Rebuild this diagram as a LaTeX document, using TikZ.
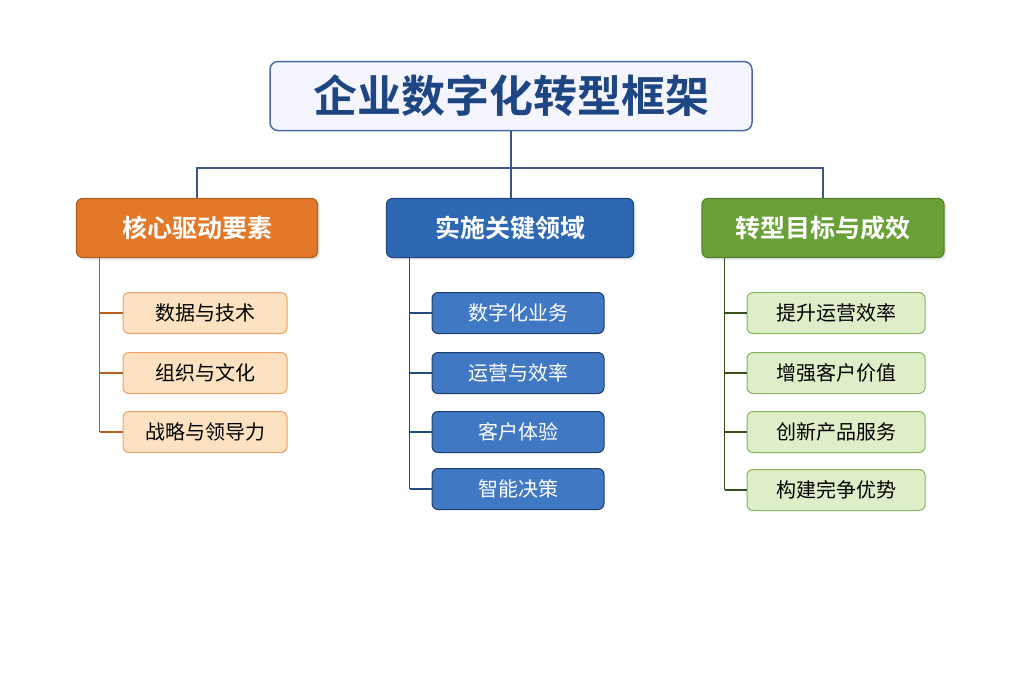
\documentclass[tikz,border=0pt]{standalone}
\usepackage{fontspec}
\newfontfamily\cjk{Noto Sans CJK SC}
\newfontfamily\cjkb{Noto Sans CJK SC Bold}
\usetikzlibrary{positioning, calc, shadows}
\definecolor{titleblue}{RGB}{30,70,130}
\definecolor{orangehead}{RGB}{226,120,40}
\definecolor{orangeleaf}{RGB}{252,226,192}
\definecolor{bluehead}{RGB}{46,104,180}
\definecolor{blueleaf}{RGB}{64,120,196}
\definecolor{greenhead}{RGB}{106,160,56}
\definecolor{greenleaf}{RGB}{222,238,200}

\begin{document}
\begin{tikzpicture}[
    x=1pt, y=-1pt,
    font=\cjk,
    % 樣式定義
    title_box/.style={
        draw=titleblue!80, line width=1.5pt, fill=blue!4, rounded corners=8pt,
        minimum width=482pt, minimum height=69pt, font=\cjkb\fontsize{44}{46}\selectfont, text=titleblue
    },
    head_box/.style={
        rounded corners=6pt, line width=1.2pt, minimum height=59pt, text=white,
        font=\cjkb\fontsize{25}{27}\selectfont, drop shadow={opacity=0.2}
    },
    leaf_box/.style={
        rounded corners=6pt, line width=1pt, minimum height=41pt, font=\cjk\fontsize{20}{22}\selectfont
    },
    link/.style={line width=1.5pt, draw=#1}
]
    \useasboundingbox (0,0) rectangle (1024,683);

    % --- TITLE ---
    \node[title_box] (title) at (511,96) {企业数字化转型框架};

    % --- HEADERS ---
    \node[head_box, draw=orangehead!80!black, fill=orangehead, minimum width=241pt] (drive) at (197,228) {核心驱动要素};
    \node[head_box, draw=bluehead!70!black, fill=bluehead, minimum width=247pt] (area) at (510,228) {实施关键领域};
    \node[head_box, draw=greenhead!80!black, fill=greenhead, minimum width=242pt] (goal) at (823,228) {转型目标与成效};

    \coordinate (split) at (511,168);
    \draw[link=titleblue!70!gray] (title.south) -- (split);
    \draw[link=titleblue!70!gray] (split) -| (drive.north);
    \draw[link=titleblue!70!gray] (split) -- (split |- area.north);
    \draw[link=titleblue!70!gray] (split) -| (goal.north);

    % --- LEAVES: drive ---
    \foreach \n/\y/\t in {d1/313/数据与技术, d2/373/组织与文化, d3/432/战略与领导力}{
        \node[leaf_box, draw=orangehead!70, fill=orangeleaf, minimum width=164pt] (\n) at (205,\y) {\t};
        \draw[link=orangehead!80!black] (\n.west) -- ++(-23,0) coordinate (\n_t);
    }
    \draw[link=orangehead!80!black] (drive.south -| d1_t) -- (d3_t);

    % --- LEAVES: area ---
    \foreach \n/\y/\t in {a1/313/数字化业务, a2/373/运营与效率, a3/432/客户体验, a4/489/智能决策}{
        \node[leaf_box, draw=bluehead!60!black, fill=blueleaf, text=white, minimum width=172pt] (\n) at (518,\y) {\t};
        \draw[link=bluehead!70!black] (\n.west) -- ++(-22,0) coordinate (\n_t);
    }
    \draw[link=bluehead!70!black] (area.south -| a1_t) -- (a4_t);

    % --- LEAVES: goal ---
    \foreach \n/\y/\t in {g1/313/提升运营效率, g2/373/增强客户价值, g3/432/创新产品服务, g4/490/构建完争优势}{
        \node[leaf_box, draw=greenhead!80, fill=greenleaf, minimum width=178pt] (\n) at (836,\y) {\t};
        \draw[link=greenhead!50!black] (\n.west) -- ++(-22,0) coordinate (\n_t);
    }
    \draw[link=greenhead!50!black] (goal.south -| g1_t) -- (g4_t);

\end{tikzpicture}
\end{document}
